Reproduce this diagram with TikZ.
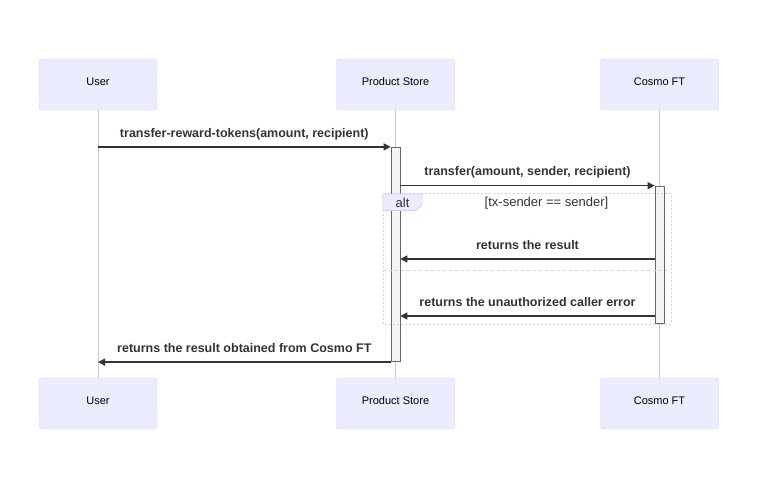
\documentclass[tikz,border=0pt]{standalone}
\usepackage{fontspec}
\setmainfont{Liberation Sans}
\usetikzlibrary{arrows.meta}

\definecolor{actorfill}{HTML}{ECECFF}
\definecolor{actorline}{HTML}{D3CDF5}
\definecolor{lifegray}{HTML}{C8C8C8}
\definecolor{msgline}{HTML}{333333}
\definecolor{actfill}{HTML}{F4F4F4}
\definecolor{actdraw}{HTML}{666666}

\begin{document}
\begin{tikzpicture}[
  x = 1pt, y = -1pt,
  > = {Triangle[length=7pt,width=7pt]},
  actor/.style = {draw=actorline,fill=actorfill,rounded corners=3pt,minimum width=118pt,minimum height=51pt,inner sep=0pt,font=\fontsize{11}{13}\selectfont},
  actortext/.style = {inner sep=0pt,font=\fontsize{11}{13}\selectfont},
  lifeline/.style = {draw=lifegray,line width=0.7pt},
  act/.style = {draw=actdraw,fill=actfill,line width=0.7pt,minimum width=9pt,inner sep=0pt},
  msg/.style = {->,draw=msgline,line width=1.4pt},
  msglabel/.style = {midway,yshift=13pt,inner sep=0pt,text=msgline,text height=9pt,text depth=2.6pt,font=\bfseries\fontsize{12.5}{14}\selectfont},
  altframe/.style = {draw=actorline,line width=1pt,dash pattern=on 2pt off 2pt},
  altsplit/.style = {draw=actorline,line width=1pt,dash pattern=on 3pt off 3pt},
  alttab/.style = {draw=actorline,fill=actorfill,line width=0.8pt},
  altlabel/.style = {inner sep=0pt,text=msgline,font=\fontsize{13}{15}\selectfont}
  ]
  \useasboundingbox (0,0) rectangle (758,481);

  % participants, top and bottom
  \node[actor] (@user) at (98,84.5) {};
  \node[actor] (@store) at (395.5,84.5) {};
  \node[actor] (@ft) at (659.5,84.5) {};
  \node[actor] (@userb) at (98,403.5) {};
  \node[actor] (@storeb) at (395.5,403.5) {};
  \node[actor] (@ftb) at (659.5,403.5) {};
  \foreach \n/\t in {@user/User,@store/Product Store,@ft/Cosmo FT,@userb/User,@storeb/Product Store,@ftb/Cosmo FT}
    \node[actortext,yshift=3pt] at (\n) {\t};

  \draw[lifeline] (@user) -- (@userb);
  \draw[lifeline] (@store) -- (@storeb);
  \draw[lifeline] (@ft) -- (@ftb);

  % activations
  \node[act,minimum height=214.5pt] (@storeact) at (395.5,254.5) {};
  \node[act,minimum height=137.5pt] (@ftact) at (659.5,254.75) {};

  % alt block
  \draw[altframe] (383,194) rectangle (671,324);
  \draw[alttab] (383,194) -- (422,194) -- (422,205) -- (416.5,210.5) -- (383,210.5) -- cycle;
  \node[altlabel] (@alt) at (402.5,202.5) {alt};
  \node[altlabel] (@cond) at (546.5,203) {[tx-sender == sender]};
  \draw[altsplit] (383,270.5) -- (671,270.5);

  \coordinate (@ok) at (0,259);
  \coordinate (@err) at (0,316);

  % messages
  \draw[msg] (@user |- @storeact.north) -- node[msglabel] {transfer-reward-tokens(amount, recipient)} (@storeact.north west);
  \draw[msg] (@storeact.east |- @ftact.north) -- node[msglabel] {transfer(amount, sender, recipient)} (@ftact.north west);
  \draw[msg] (@ftact.west |- @ok) -- node[msglabel] {returns the result} (@storeact.east |- @ok);
  \draw[msg] (@ftact.west |- @err) -- node[msglabel] {returns the unauthorized caller error} (@storeact.east |- @err);
  \draw[msg] (@storeact.south west) -- node[msglabel] {returns the result obtained from Cosmo FT} (@user |- @storeact.south);
\end{tikzpicture}
\end{document}
